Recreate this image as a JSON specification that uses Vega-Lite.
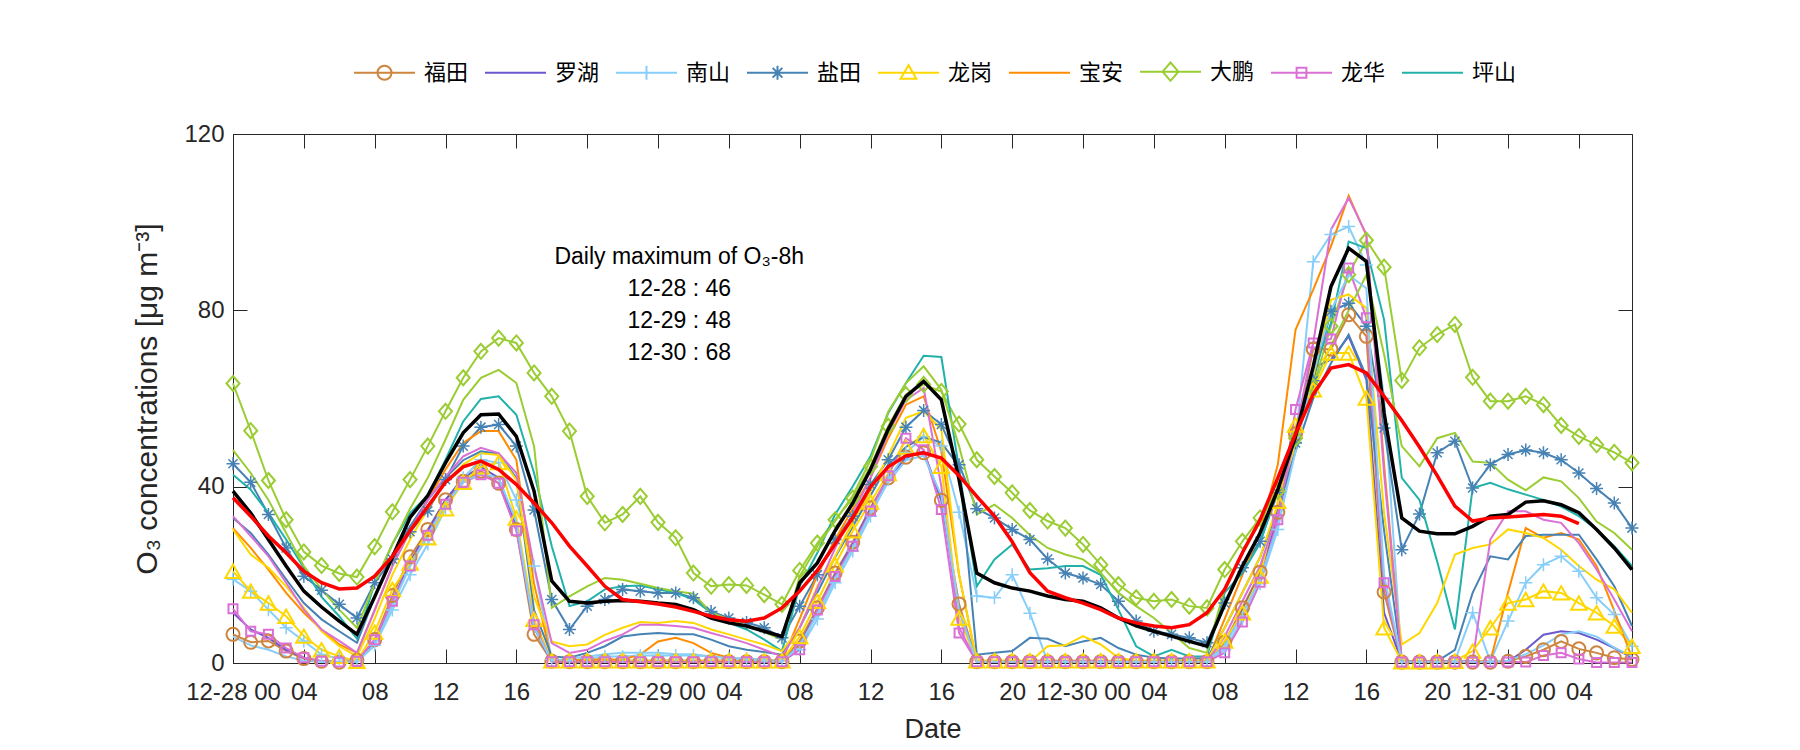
{
"$schema": "https://vega.github.io/schema/vega-lite/v6.json",
"width": 1399, "height": 529,
"autosize": {"type": "none"},
"padding": {"left": 233, "top": 134, "right": 168, "bottom": 87},
"background": "white",
"config": {
  "view": {"stroke": "#262626", "strokeWidth": 1},
  "axis": {"grid": false, "labelFont": "Liberation Sans", "labelFontSize": 24, "labelColor": "#262626", "titleFont": "Liberation Sans", "titleFontSize": 27, "titleFontWeight": "normal", "titleColor": "#262626", "tickColor": "#262626", "domainColor": "#262626", "tickSize": -14, "labelFlush": false, "labelOverlap": false}
},
"datasets": {"obs": [
{"h":0,"福田":6.5,"罗湖":11.4,"南山":19,"盐田":45.2,"龙岗":20.8,"宝安":30.6,"大鹏":63.4,"龙华":12.3,"坪山":42.7,"大鹏2":48.3,"盐田2":32.9,"龙岗2":30.3,"龙华2":33.3,"南山2":6,"均值":39,"滑动":37.5},
{"h":1,"福田":4.7,"罗湖":7.6,"南山":16.3,"盐田":41,"龙岗":16.3,"宝安":26.1,"大鹏":52.7,"龙华":7.2,"坪山":39.3,"大鹏2":43.1,"盐田2":29.5,"龙岗2":24.6,"龙华2":28.8,"南山2":4,"均值":34,"滑动":33.3},
{"h":2,"福田":5,"罗湖":5.7,"南山":12.1,"盐田":33.7,"龙岗":13.6,"宝安":21.2,"大鹏":41.4,"龙华":6.5,"坪山":34,"大鹏2":37,"盐田2":24.6,"龙岗2":21.6,"龙华2":24.2,"南山2":3,"均值":28,"滑动":28.8},
{"h":3,"福田":2.7,"罗湖":3,"南山":8,"盐田":26.1,"龙岗":10.6,"宝安":15.9,"大鹏":32.5,"龙华":3.4,"坪山":28,"大鹏2":29.5,"盐田2":19,"龙岗2":17.4,"龙华2":18.2,"南山2":1.5,"均值":22,"滑动":25},
{"h":4,"福田":1,"罗湖":1.2,"南山":5,"盐田":19.7,"龙岗":6.1,"宝安":11.4,"大鹏":25.2,"龙华":1.2,"坪山":21.6,"大鹏2":22,"盐田2":13.6,"龙岗2":12.5,"龙华2":12.1,"南山2":0.5,"均值":16.3,"滑动":20.8},
{"h":5,"福田":0.4,"罗湖":0.4,"南山":1.9,"盐田":16.5,"龙岗":3,"宝安":7.6,"大鹏":22.1,"龙华":0.4,"坪山":15,"大鹏2":16.7,"盐田2":9.9,"龙岗2":7.2,"龙华2":7.6,"南山2":0.2,"均值":12.7,"滑动":18.2},
{"h":6,"福田":0.2,"罗湖":0.2,"南山":1,"盐田":13.3,"龙岗":1.5,"宝安":4.2,"大鹏":20.3,"龙华":0.2,"坪山":10.6,"大鹏2":12.1,"盐田2":7.2,"龙岗2":3.8,"龙华2":5,"南山2":0.2,"均值":9.5,"滑动":16.8},
{"h":7,"福田":0.6,"罗湖":0.2,"南山":0.5,"盐田":10.2,"龙岗":0.4,"宝安":2.3,"大鹏":19.5,"龙华":0.4,"坪山":5.5,"大鹏2":8,"盐田2":4.6,"龙岗2":1.5,"龙华2":2.3,"南山2":0.2,"均值":6.5,"滑动":17},
{"h":8,"福田":5.3,"罗湖":5,"南山":4,"盐田":18.2,"龙岗":7,"宝安":12,"大鹏":26.4,"龙华":5.3,"坪山":18,"大鹏2":18,"盐田2":15,"龙岗2":10,"龙华2":12,"南山2":4,"均值":15,"滑动":19.7},
{"h":9,"福田":15.3,"罗湖":14,"南山":12,"盐田":23.6,"龙岗":16.7,"宝安":22,"大鹏":34.3,"龙华":14,"坪山":27,"大鹏2":27,"盐田2":24,"龙岗2":20,"龙华2":22,"南山2":13,"均值":24,"滑动":24.2},
{"h":10,"福田":24.1,"罗湖":23,"南山":20,"盐田":29.8,"龙岗":22.7,"宝安":30,"大鹏":41.6,"龙华":22,"坪山":34,"大鹏2":35,"盐田2":31,"龙岗2":28,"龙华2":30,"南山2":22,"均值":33,"滑动":30},
{"h":11,"福田":30.3,"罗湖":30,"南山":27,"盐田":34.5,"龙岗":28.4,"宝安":37,"大鹏":49.2,"龙华":29,"坪山":38,"大鹏2":42,"盐田2":37,"龙岗2":35,"龙华2":37,"南山2":29,"均值":38,"滑动":35.5},
{"h":12,"福田":37,"罗湖":37,"南山":35,"盐田":41.6,"龙岗":35,"宝安":43.9,"大鹏":57.1,"龙华":36,"坪山":46.1,"大鹏2":50.7,"盐田2":42,"龙岗2":41,"龙华2":42.3,"南山2":36,"均值":45.4,"滑动":41},
{"h":13,"福田":41.2,"罗湖":42,"南山":42,"盐田":49.2,"龙岗":41,"宝安":49.9,"大鹏":64.7,"龙华":41,"坪山":54.8,"大鹏2":59.7,"盐田2":46,"龙岗2":45,"龙华2":46.9,"南山2":41,"均值":52.2,"滑动":44.5},
{"h":14,"福田":43.5,"罗湖":44.5,"南山":46.1,"盐田":53.5,"龙岗":44.5,"宝安":52.6,"大鹏":70.7,"龙华":42.7,"坪山":59.9,"大鹏2":64.7,"盐田2":48,"龙岗2":47.6,"龙华2":48.8,"南山2":43,"均值":56.3,"滑动":45.8},
{"h":15,"福田":40.8,"罗湖":42,"南山":45.4,"盐田":54.1,"龙岗":45.5,"宝安":52.6,"大鹏":73.7,"龙华":40.8,"坪山":60.5,"大鹏2":66.5,"盐田2":47.5,"龙岗2":47.2,"龙华2":47.6,"南山2":42,"均值":56.5,"滑动":43.9},
{"h":16,"福田":30.3,"罗湖":31,"南山":37,"盐田":49.2,"龙岗":32.9,"宝安":46.1,"大鹏":72.6,"龙华":30,"坪山":56.3,"大鹏2":63.5,"盐田2":42,"龙岗2":41.6,"龙华2":43.1,"南山2":32,"均值":51.4,"滑动":40.5},
{"h":17,"福田":6.5,"罗湖":8,"南山":22,"盐田":34.7,"龙岗":9.9,"宝安":18,"大鹏":65.8,"龙华":8.7,"坪山":43.1,"大鹏2":49.2,"盐田2":12,"龙岗2":15,"龙华2":22,"南山2":8,"均值":39,"滑动":36.3},
{"h":18,"福田":0.4,"罗湖":0.3,"南山":0.8,"盐田":14.4,"龙岗":0.5,"宝安":0.5,"大鹏":60.5,"龙华":0.3,"坪山":26.5,"大鹏2":12.5,"盐田2":1.5,"龙岗2":4.9,"龙华2":4.5,"南山2":0.5,"均值":18.6,"滑动":31.8},
{"h":19,"福田":0.3,"罗湖":0.3,"南山":0.5,"盐田":7.6,"龙岗":0.5,"宝安":0.5,"大鹏":52.6,"龙华":0.3,"坪山":12.9,"大鹏2":15.1,"盐田2":1.2,"龙岗2":3.8,"龙华2":2.3,"南山2":1,"均值":14,"滑动":26.5},
{"h":20,"福田":0.3,"罗湖":0.5,"南山":1,"盐田":12.9,"龙岗":0.5,"宝安":0.8,"大鹏":37.8,"龙华":0.3,"坪山":14,"大鹏2":17.4,"盐田2":2.3,"龙岗2":4.2,"龙华2":3,"南山2":1.5,"均值":13.6,"滑动":22},
{"h":21,"福田":0.3,"罗湖":0.5,"南山":1.5,"盐田":14.4,"龙岗":0.5,"宝安":0.8,"大鹏":31.8,"龙华":0.3,"坪山":16.7,"大鹏2":19.3,"盐田2":3.8,"龙岗2":6.4,"龙华2":5,"南山2":2,"均值":14,"滑动":17.4},
{"h":22,"福田":0.3,"罗湖":0.5,"南山":1.5,"盐田":16.7,"龙岗":0.5,"宝安":0.8,"大鹏":33.7,"龙华":0.3,"坪山":17.4,"大鹏2":18.9,"盐田2":6,"龙岗2":8,"龙华2":6.5,"南山2":2.3,"均值":14.2,"滑动":14.4},
{"h":23,"福田":0.3,"罗湖":0.5,"南山":1.7,"盐田":16.3,"龙岗":0.5,"宝安":1.9,"大鹏":37.8,"龙华":0.3,"坪山":17.6,"大鹏2":18,"盐田2":6.5,"龙岗2":9.3,"龙华2":8.7,"南山2":2.3,"均值":14,"滑动":13.9},
{"h":24,"福田":0.3,"罗湖":0.5,"南山":1.7,"盐田":15.9,"龙岗":0.5,"宝安":4.9,"大鹏":31.9,"龙华":0.3,"坪山":16.7,"大鹏2":17,"盐田2":6.8,"龙岗2":9.1,"龙华2":8.7,"南山2":2.3,"均值":13.6,"滑动":13.4},
{"h":25,"福田":0.3,"罗湖":0.5,"南山":1.7,"盐田":15.9,"龙岗":0.5,"宝安":5.7,"大鹏":28.4,"龙华":0.3,"坪山":15.9,"大鹏2":16.3,"盐田2":6.5,"龙岗2":9.5,"龙华2":8.4,"南山2":2,"均值":13.3,"滑动":12.7},
{"h":26,"福田":0.3,"罗湖":0.5,"南山":1.7,"盐田":14.8,"龙岗":0.5,"宝安":4.5,"大鹏":20.4,"龙华":0.3,"坪山":14.4,"大鹏2":15.7,"盐田2":6.5,"龙岗2":9.1,"龙华2":8,"南山2":2,"均值":12.1,"滑动":11.7},
{"h":27,"福田":0.3,"罗湖":0.5,"南山":1.5,"盐田":11.7,"龙岗":0.5,"宝安":2.3,"大鹏":17.4,"龙华":0.3,"坪山":11.4,"大鹏2":11.4,"盐田2":5.3,"龙岗2":7.6,"龙华2":6.8,"南山2":1.5,"均值":10.2,"滑动":10.6},
{"h":28,"福田":0.3,"罗湖":0.5,"南山":1.2,"盐田":10.2,"龙岗":0.5,"宝安":1.2,"大鹏":17.8,"龙华":0.3,"坪山":9.1,"大鹏2":9.9,"盐田2":3.8,"龙岗2":6.5,"龙华2":5.7,"南山2":1,"均值":9.1,"滑动":9.8},
{"h":29,"福田":0.3,"罗湖":0.3,"南山":1,"盐田":9.2,"龙岗":0.5,"宝安":0.5,"大鹏":17.6,"龙华":0.3,"坪山":7.6,"大鹏2":8.4,"盐田2":3,"龙岗2":5.3,"龙华2":4.5,"南山2":0.8,"均值":8.4,"滑动":9.5},
{"h":30,"福田":0.3,"罗湖":0.3,"南山":0.8,"盐田":8,"龙岗":0.5,"宝安":0.5,"大鹏":15.5,"龙华":0.3,"坪山":5.3,"大鹏2":7,"盐田2":2.5,"龙岗2":4.2,"龙华2":3,"南山2":0.5,"均值":7.2,"滑动":10.2},
{"h":31,"福田":0.3,"罗湖":0.3,"南山":0.5,"盐田":5.7,"龙岗":0.5,"宝安":0.5,"大鹏":13.3,"龙华":0.3,"坪山":2.7,"大鹏2":5.3,"盐田2":1.9,"龙岗2":2.7,"龙华2":1.5,"南山2":0.3,"均值":6,"滑动":12.5},
{"h":32,"福田":5,"罗湖":4,"南山":3,"盐田":12.9,"龙岗":6,"宝安":10,"大鹏":21,"龙华":3,"坪山":17.4,"大鹏2":19.7,"盐田2":8,"龙岗2":8,"龙华2":8,"南山2":4,"均值":18.2,"滑动":16.3},
{"h":33,"福田":12.5,"罗湖":12,"南山":10,"盐田":20,"龙岗":14,"宝安":20,"大鹏":27.2,"龙华":12,"坪山":25,"大鹏2":26.5,"盐田2":16,"龙岗2":17.4,"龙华2":17,"南山2":11,"均值":22.7,"滑动":21},
{"h":34,"福田":20.4,"罗湖":20,"南山":18.2,"盐田":28,"龙岗":22.3,"宝安":28,"大鹏":32.5,"龙华":19.6,"坪山":33.7,"大鹏2":32.2,"盐田2":24,"龙岗2":24.2,"龙华2":26,"南山2":19,"均值":30,"滑动":27},
{"h":35,"福田":27.4,"罗湖":27,"南山":25.4,"盐田":33.3,"龙岗":30,"宝安":35,"大鹏":37.4,"龙华":26.5,"坪山":40.1,"大鹏2":38,"盐田2":31,"龙岗2":32,"龙华2":34,"南山2":26,"均值":36.3,"滑动":33},
{"h":36,"福田":35.2,"罗湖":35,"南山":33.3,"盐田":40.5,"龙岗":36.5,"宝安":42,"大鹏":44.6,"龙华":34.5,"坪山":46.9,"大鹏2":46,"盐田2":38,"龙岗2":39,"龙华2":42,"南山2":34,"均值":43.9,"滑动":40},
{"h":37,"福田":42,"罗湖":42,"南山":41.6,"盐田":46.1,"龙岗":43,"宝安":51,"大鹏":53.7,"龙华":42.5,"坪山":56.7,"大鹏2":57,"盐田2":45,"龙岗2":47,"龙华2":52.2,"南山2":41,"均值":53,"滑动":44.5},
{"h":38,"福田":46.7,"罗湖":46.5,"南山":47.7,"盐田":53.5,"龙岗":49,"宝安":58.6,"大鹏":60.9,"龙华":51,"坪山":63.5,"大鹏2":63.5,"盐田2":49,"龙岗2":55.6,"龙华2":59.7,"南山2":46,"均值":60.5,"滑动":47},
{"h":39,"福田":47.7,"罗湖":48,"南山":51.3,"盐田":57.3,"龙岗":51.6,"宝安":60.5,"大鹏":63.2,"龙华":48.4,"坪山":69.7,"大鹏2":67.3,"盐田2":51.3,"龙岗2":57.1,"龙华2":62.4,"南山2":47,"均值":63.9,"滑动":47.7},
{"h":40,"福田":36.9,"罗湖":37,"南山":49.2,"盐田":54.1,"龙岗":44.6,"宝安":48,"大鹏":61.6,"龙华":34.8,"坪山":69.4,"大鹏2":62,"盐田2":50,"龙岗2":53,"龙华2":40,"南山2":38,"均值":59.7,"滑动":46.5},
{"h":41,"福田":13.4,"罗湖":12,"南山":34.2,"盐田":45,"龙岗":10.2,"宝安":20,"大鹏":54.2,"龙华":6.8,"坪山":44,"大鹏2":49.2,"盐田2":44.6,"龙岗2":20,"龙华2":8,"南山2":12,"均值":41.6,"滑动":42.5},
{"h":42,"福田":0.3,"罗湖":0.3,"南山":15.2,"盐田":35,"龙岗":0.5,"宝安":0.3,"大鹏":46.1,"龙华":0.3,"坪山":17.4,"大鹏2":33.7,"盐田2":1.9,"龙岗2":0.5,"龙华2":0.3,"南山2":0.3,"均值":20.4,"滑动":37.8},
{"h":43,"福田":0.3,"罗湖":0.3,"南山":14.8,"盐田":32.9,"龙岗":0.5,"宝安":0.3,"大鹏":42.3,"龙华":0.3,"坪山":23.5,"大鹏2":35.9,"盐田2":2.3,"龙岗2":0.5,"龙华2":0.3,"南山2":0.3,"均值":18.2,"滑动":33.3},
{"h":44,"福田":0.3,"罗湖":0.3,"南山":20,"盐田":30.3,"龙岗":0.5,"宝安":0.3,"大鹏":38.6,"龙华":0.3,"坪山":26.9,"大鹏2":32.9,"盐田2":2.7,"龙岗2":0.5,"龙华2":0.3,"南山2":0.3,"均值":17,"滑动":27.5},
{"h":45,"福田":0.3,"罗湖":0.3,"南山":11.3,"盐田":28,"龙岗":0.5,"宝安":0.3,"大鹏":34.6,"龙华":0.3,"坪山":21.2,"大鹏2":29,"盐田2":5.7,"龙岗2":0.3,"龙华2":0.5,"南山2":0.3,"均值":16.3,"滑动":20.5},
{"h":46,"福田":0.3,"罗湖":0.3,"南山":0.3,"盐田":23.6,"龙岗":0.5,"宝安":0.3,"大鹏":32.2,"龙华":0.3,"坪山":21.5,"大鹏2":26.1,"盐田2":5.5,"龙岗2":3.8,"龙华2":0.5,"南山2":0.3,"均值":15.2,"滑动":16.3},
{"h":47,"福田":0.3,"罗湖":0.3,"南山":0.3,"盐田":20.4,"龙岗":0.5,"宝安":0.3,"大鹏":30.6,"龙华":0.3,"坪山":22,"大鹏2":24.6,"盐田2":3.8,"龙岗2":4,"龙华2":0.5,"南山2":0.3,"均值":14.4,"滑动":14.8},
{"h":48,"福田":0.3,"罗湖":0.3,"南山":0.3,"盐田":19.3,"龙岗":0.5,"宝安":0.3,"大鹏":26.9,"龙华":0.3,"坪山":22,"大鹏2":23.5,"盐田2":4.9,"龙岗2":6.1,"龙华2":0.5,"南山2":0.3,"均值":14,"滑动":13.6},
{"h":49,"福田":0.3,"罗湖":0.3,"南山":0.3,"盐田":17.8,"龙岗":0.5,"宝安":0.3,"大鹏":22.3,"龙华":0.3,"坪山":20,"大鹏2":20.4,"盐田2":5.7,"龙岗2":4.2,"龙华2":0.5,"南山2":0.3,"均值":12.5,"滑动":12.1},
{"h":50,"福田":0.3,"罗湖":0.3,"南山":0.3,"盐田":14,"龙岗":0.5,"宝安":0.3,"大鹏":17.8,"龙华":0.3,"坪山":12.1,"大鹏2":15.9,"盐田2":3.4,"龙岗2":1.2,"龙华2":0.3,"南山2":0.3,"均值":10.2,"滑动":10.2},
{"h":51,"福田":0.3,"罗湖":0.3,"南山":0.3,"盐田":9.5,"龙岗":0.5,"宝安":0.3,"大鹏":14.8,"龙华":0.3,"坪山":3.8,"大鹏2":12.9,"盐田2":1.9,"龙岗2":0.5,"龙华2":0.3,"南山2":0.3,"均值":8.4,"滑动":9.1},
{"h":52,"福田":0.3,"罗湖":0.3,"南山":0.3,"盐田":7.2,"龙岗":0.5,"宝安":0.3,"大鹏":14,"龙华":0.3,"坪山":1.5,"大鹏2":10.2,"盐田2":1.2,"龙岗2":0.5,"龙华2":0.3,"南山2":0.3,"均值":7.2,"滑动":8.4},
{"h":53,"福田":0.3,"罗湖":0.3,"南山":0.3,"盐田":6.5,"龙岗":0.5,"宝安":0.3,"大鹏":14.4,"龙华":0.3,"坪山":3,"大鹏2":6.8,"盐田2":1,"龙岗2":0.5,"龙华2":0.3,"南山2":0.3,"均值":6.1,"滑动":8},
{"h":54,"福田":0.3,"罗湖":0.3,"南山":0.3,"盐田":5.7,"龙岗":0.5,"宝安":0.3,"大鹏":12.9,"龙华":0.3,"坪山":1.5,"大鹏2":3.4,"盐田2":1,"龙岗2":0.5,"龙华2":0.3,"南山2":0.3,"均值":4.9,"滑动":8.7},
{"h":55,"福田":0.3,"罗湖":0.3,"南山":0.3,"盐田":4.6,"龙岗":0.5,"宝安":0.3,"大鹏":12.5,"龙华":0.3,"坪山":1.5,"大鹏2":2.3,"盐田2":1,"龙岗2":0.5,"龙华2":0.3,"南山2":0.3,"均值":3.8,"滑动":11.4},
{"h":56,"福田":4.7,"罗湖":4,"南山":3,"盐田":13.6,"龙岗":5,"宝安":10,"大鹏":21.2,"龙华":2.3,"坪山":16,"大鹏2":17,"盐田2":8,"龙岗2":8,"龙华2":6,"南山2":4,"均值":13.3,"滑动":16.7},
{"h":57,"福田":12.5,"罗湖":12,"南山":10,"盐田":21.6,"龙岗":11.4,"宝安":20,"大鹏":27.6,"龙华":9.3,"坪山":20.4,"大鹏2":25,"盐田2":16,"龙岗2":16,"龙华2":14,"南山2":11,"均值":22,"滑动":25},
{"h":58,"福田":20.6,"罗湖":20,"南山":18,"盐田":27.6,"龙岗":19.7,"宝安":30,"大鹏":32.9,"龙华":18.3,"坪山":27.2,"大鹏2":32,"盐田2":24,"龙岗2":24,"龙华2":22,"南山2":19,"均值":29.5,"滑动":32.5},
{"h":59,"福田":34.2,"罗湖":33,"南山":30.3,"盐田":38.6,"龙岗":36.7,"宝安":45,"大鹏":39,"龙华":32.5,"坪山":39.3,"大鹏2":40,"盐田2":35,"龙岗2":36,"龙华2":34,"南山2":31,"均值":39.3,"滑动":42},
{"h":60,"福田":52,"罗湖":51,"南山":50,"盐田":49.9,"龙岗":54,"宝安":75.6,"大鹏":51,"龙华":57.5,"坪山":52.2,"大鹏2":52,"盐田2":48,"龙岗2":50,"龙华2":52,"南山2":48,"均值":51.4,"滑动":52},
{"h":61,"福田":71.2,"罗湖":67,"南山":91,"盐田":64,"龙岗":62,"宝安":84.7,"大鹏":62.7,"龙华":72.6,"坪山":65.8,"大鹏2":63,"盐田2":60,"龙岗2":65,"龙华2":72.6,"南山2":66,"均值":67.3,"滑动":61},
{"h":62,"福田":71.2,"罗湖":68.8,"南山":97.2,"盐田":79.8,"龙岗":70.3,"宝安":94.5,"大鹏":76.4,"龙华":73.5,"坪山":77.1,"大鹏2":72,"盐田2":68,"龙岗2":82.4,"龙华2":98.3,"南山2":80,"均值":85.4,"滑动":66.9},
{"h":63,"福田":79,"罗湖":74.1,"南山":99,"盐田":81.6,"龙岗":70.3,"宝安":106,"大鹏":88.1,"龙华":89.6,"坪山":95.6,"大鹏2":80,"盐田2":74.5,"龙岗2":83.6,"龙华2":105.5,"南山2":88,"均值":94.1,"滑动":67.7},
{"h":64,"福田":74.1,"罗湖":64.3,"南山":90.3,"盐田":76.4,"龙岗":60.1,"宝安":97,"大鹏":95.9,"龙华":78.3,"坪山":94.1,"大鹏2":88,"盐田2":65,"龙岗2":80.5,"龙华2":97.2,"南山2":85,"均值":91.1,"滑动":65.8},
{"h":65,"福田":16.1,"罗湖":11.4,"南山":60,"盐田":53.3,"龙岗":8,"宝安":45,"大鹏":89.8,"龙华":18.2,"坪山":77.9,"大鹏2":70,"盐田2":30,"龙岗2":34,"龙华2":43,"南山2":20,"均值":56.7,"滑动":60.5},
{"h":66,"福田":0.2,"罗湖":0.3,"南山":0.3,"盐田":25.7,"龙岗":0.3,"宝安":0.3,"大鹏":64.1,"龙华":0.2,"坪山":42,"大鹏2":49.2,"盐田2":0.4,"龙岗2":4.2,"龙华2":0.3,"南山2":0.3,"均值":32.9,"滑动":55},
{"h":67,"福田":0.2,"罗湖":0.3,"南山":0.3,"盐田":33.8,"龙岗":0.3,"宝安":0.4,"大鹏":71.5,"龙华":0.2,"坪山":37,"大鹏2":44.6,"盐田2":0.4,"龙岗2":6.8,"龙华2":0.4,"南山2":0.3,"均值":29.9,"滑动":49},
{"h":68,"福田":0.2,"罗湖":0.3,"南山":0.3,"盐田":47.7,"龙岗":0.3,"宝安":0.4,"大鹏":74.5,"龙华":0.2,"坪山":23,"大鹏2":51,"盐田2":0.4,"龙岗2":13.6,"龙华2":0.4,"南山2":0.3,"均值":29.3,"滑动":42.5},
{"h":69,"福田":0.2,"罗湖":0.3,"南山":0.5,"盐田":50.3,"龙岗":0.4,"宝安":0.4,"大鹏":76.8,"龙华":0.2,"坪山":7.6,"大鹏2":52.2,"盐田2":3,"龙岗2":24.6,"龙华2":0.4,"南山2":0.3,"均值":29.3,"滑动":35.6},
{"h":70,"福田":0.2,"罗湖":0.3,"南山":11.4,"盐田":39.7,"龙岗":2.7,"宝安":0.4,"大鹏":64.8,"龙华":0.2,"坪山":39.7,"大鹏2":45.7,"盐田2":15.9,"龙岗2":26.1,"龙华2":0.5,"南山2":0.3,"均值":31,"滑动":32.2},
{"h":71,"福田":0.2,"罗湖":0.3,"南山":0.4,"盐田":45,"龙岗":8,"宝安":0.4,"大鹏":59.4,"龙华":0.2,"坪山":40.9,"大鹏2":45.4,"盐田2":24.2,"龙岗2":26.9,"龙华2":28,"南山2":0.3,"均值":33.3,"滑动":32.9},
{"h":72,"福田":0.4,"罗湖":0.3,"南山":9.5,"盐田":47.3,"龙岗":13.6,"宝安":16,"大鹏":59.4,"龙华":0.2,"坪山":39.4,"大鹏2":41.6,"盐田2":23.5,"龙岗2":30.3,"龙华2":34.4,"南山2":0.5,"均值":33.7,"滑动":33.1},
{"h":73,"福田":1.5,"罗湖":3,"南山":18.2,"盐田":48.3,"龙岗":14.4,"宝安":30.6,"大鹏":60.5,"龙华":0.2,"坪山":38.2,"大鹏2":39.2,"盐田2":28.8,"龙岗2":29.5,"龙华2":34.4,"南山2":2,"均值":36.5,"滑动":33.4},
{"h":74,"福田":3,"罗湖":6.4,"南山":22.3,"盐田":47.7,"龙岗":16.3,"宝安":28.4,"大鹏":58.6,"龙华":1.7,"坪山":37,"大鹏2":42.1,"盐田2":29.1,"龙岗2":28.4,"龙华2":32.5,"南山2":4,"均值":36.8,"滑动":33.7},
{"h":75,"福田":4.9,"罗湖":7.2,"南山":24.2,"盐田":46.1,"龙岗":15.9,"宝安":29.5,"大鹏":53.9,"龙华":2.3,"坪山":35.5,"大鹏2":41.2,"盐田2":29.1,"龙岗2":25.7,"龙华2":31.8,"南山2":6.5,"均值":35.9,"滑动":33.3},
{"h":76,"福田":3.2,"罗湖":6.8,"南山":20.8,"盐田":43.1,"龙岗":13.6,"宝安":28,"大鹏":51.4,"龙华":0.9,"坪山":33.3,"大鹏2":37.4,"盐田2":29.1,"龙岗2":22,"龙华2":27.2,"南山2":7.2,"均值":34.1,"滑动":31.6},
{"h":77,"福田":2.3,"罗湖":5.3,"南山":14.8,"盐田":39.6,"龙岗":11.4,"宝安":22,"大鹏":49.5,"龙华":0.1,"坪山":30.3,"大鹏2":32.1,"盐田2":23.5,"龙岗2":18.9,"龙华2":21.2,"南山2":6,"均值":30.3},
{"h":78,"福田":1.2,"罗湖":3.4,"南山":11,"盐田":36.3,"龙岗":8.4,"宝安":11.8,"大鹏":47.8,"龙华":0.1,"坪山":26.5,"大鹏2":29.5,"盐田2":17.4,"龙岗2":16.7,"龙华2":14.4,"南山2":3.5,"均值":26.1},
{"h":79,"福田":0.8,"罗湖":1.2,"南山":3.8,"盐田":30.6,"龙岗":3.8,"宝安":1.2,"大鹏":45.4,"龙华":0.1,"坪山":22,"大鹏2":25.7,"盐田2":8.4,"龙岗2":11.4,"龙华2":7.2,"南山2":1.5,"均值":21.2}
]},
"resolve": {"axis": {"x": "independent", "y": "independent"}},
"layer": [
  {
    "data": {"name": "obs"},
    "transform": [{"fold": ["福田","罗湖","南山","盐田","龙岗","宝安","大鹏","龙华","坪山","大鹏2","盐田2","龙岗2","龙华2","南山2","均值","滑动"], "as": ["site", "value"]}],
    "encoding": {
      "x": {"field": "h", "type": "quantitative", "scale": {"domain": [0, 79], "nice": false, "zero": false},
            "axis": {"orient": "bottom", "values": [0,4,8,12,16,20,24,28,32,36,40,44,48,52,56,60,64,68,72,76], "labelExpr": "datum.value % 24 == 0 ? '12-' + (28 + floor(datum.value / 24)) + ' 00' : ((datum.value % 24) < 10 ? '0' : '') + (datum.value % 24)", "title": "Date", "labelPadding": 31, "titlePadding": 12}},
      "y": {"field": "value", "type": "quantitative", "scale": {"domain": [0, 120], "nice": false},
            "axis": {"orient": "left", "values": [0, 40, 80, 120], "title": "O₃ concentrations [μg m⁻³]", "titleFontSize": 30, "labelPadding": 23, "titlePadding": 21}}
    },
    "layer": [
      {
        "transform": [{"filter": {"field": "site", "oneOf": ["大鹏2","盐田2","龙岗2","龙华2","南山2","福田","罗湖","南山","盐田","龙岗","宝安","大鹏","龙华","坪山"]}}],
        "mark": {"type": "line", "strokeWidth": 2},
        "encoding": {
          "stroke": {"field": "site", "type": "nominal", "legend": null,
                     "scale": {"domain": ["福田","罗湖","南山","盐田","龙岗","宝安","大鹏","龙华","坪山","大鹏2","盐田2","龙岗2","龙华2","南山2"],
                               "range": ["#CD853F","#6A5ACD","#87CEFA","#4682B4","#FFD700","#FF8C00","#9ACD32","#DA70D6","#20B2AA","#9ACD32","#4682B4","#FFD700","#DA70D6","#87CEFA"]}}
        }
      },
      {
        "transform": [{"filter": "datum.site === '福田'"}],
        "mark": {"type": "point", "shape": "circle", "size": 170, "filled": false, "strokeWidth": 2, "opacity": 1},
        "encoding": {"stroke": {"field": "site", "type": "nominal", "legend": null}}
      },
      {
        "transform": [{"filter": "datum.site === '南山'"}],
        "mark": {"type": "point", "shape": "M-1,0L1,0M0,-1L0,1", "size": 169, "filled": false, "strokeWidth": 1.5, "opacity": 1},
        "encoding": {"stroke": {"field": "site", "type": "nominal", "legend": null}}
      },
      {
        "transform": [{"filter": "datum.site === '盐田'"}],
        "mark": {"type": "point", "shape": "M-1,0L1,0M0,-1L0,1M-0.7,-0.7L0.7,0.7M-0.7,0.7L0.7,-0.7", "size": 169, "filled": false, "strokeWidth": 1.5, "opacity": 1},
        "encoding": {"stroke": {"field": "site", "type": "nominal", "legend": null}}
      },
      {
        "transform": [{"filter": "datum.site === '龙岗'"}],
        "mark": {"type": "point", "shape": "triangle-up", "size": 240, "filled": false, "strokeWidth": 2, "opacity": 1},
        "encoding": {"stroke": {"field": "site", "type": "nominal", "legend": null}}
      },
      {
        "transform": [{"filter": "datum.site === '大鹏'"}],
        "mark": {"type": "point", "shape": "M0,-1L0.87,0L0,1L-0.87,0Z", "size": 225, "filled": false, "strokeWidth": 2, "opacity": 1},
        "encoding": {"stroke": {"field": "site", "type": "nominal", "legend": null}}
      },
      {
        "transform": [{"filter": "datum.site === '龙华'"}],
        "mark": {"type": "point", "shape": "square", "size": 81, "filled": false, "strokeWidth": 2, "opacity": 1},
        "encoding": {"stroke": {"field": "site", "type": "nominal", "legend": null}}
      },
      {
        "transform": [{"filter": "datum.site === '均值'"}],
        "mark": {"type": "line", "color": "#000000", "strokeWidth": 3.5}
      },
      {
        "transform": [{"filter": "datum.site === '滑动'"}],
        "mark": {"type": "line", "color": "#FF0000", "strokeWidth": 3.5}
      }
    ]
  },
  {
    "data": {"values": [{"站点":"福田"},{"站点":"罗湖"},{"站点":"南山"},{"站点":"盐田"},{"站点":"龙岗"},{"站点":"宝安"},{"站点":"大鹏"},{"站点":"龙华"},{"站点":"坪山"}]},
    "mark": {"type": "point", "filled": false, "size": 3721, "strokeWidth": 2, "opacity": 1, "clip": true},
    "encoding": {
      "x": {"datum": -10, "type": "quantitative", "axis": {"orient": "top", "labels": false, "title": null, "domain": false, "values": [0,4,8,12,16,20,24,28,32,36,40,44,48,52,56,60,64,68,72,76]}},
      "y": {"datum": 60, "type": "quantitative", "axis": {"orient": "right", "labels": false, "title": null, "domain": false, "values": [0, 40, 80, 120]}},
      "color": {"field": "站点", "type": "nominal",
                "scale": {"domain": ["福田","罗湖","南山","盐田","龙岗","宝安","大鹏","龙华","坪山"],
                          "range": ["#CD853F","#6A5ACD","#87CEFA","#4682B4","#FFD700","#FF8C00","#9ACD32","#DA70D6","#20B2AA"]},
                "legend": {"orient": "none", "legendX": 120, "legendY": -94, "direction": "horizontal", "columns": 9, "title": null, "padding": 0,
                           "labelFont": "Noto Sans CJK SC", "labelFontSize": 22, "labelColor": "#000000", "symbolSize": 3721, "symbolStrokeWidth": 2, "labelOffset": 8, "columnPadding": 12}},
      "shape": {"field": "站点", "type": "nominal",
                "scale": {"domain": ["福田","罗湖","南山","盐田","龙岗","宝安","大鹏","龙华","坪山"],
                          "range": ["M-1,0L1,0M0.23,0A0.23,0.23,0,1,1,-0.23,0A0.23,0.23,0,1,1,0.23,0",
                                    "M-1,0L1,0",
                                    "M-1,0L1,0M0,-0.23L0,0.23",
                                    "M-1,0L1,0M0,-0.23L0,0.23M-0.16,-0.16L0.16,0.16M-0.16,0.16L0.16,-0.16",
                                    "M-1,0L1,0M0,-0.25L0.26,0.2L-0.26,0.2Z",
                                    "M-1,0L1,0",
                                    "M-1,0L1,0M0,-0.3L0.26,0L0,0.3L-0.26,0Z",
                                    "M-1,0L1,0M-0.16,-0.16L0.16,-0.16L0.16,0.16L-0.16,0.16Z",
                                    "M-1,0L1,0"]},
                "legend": {"orient": "none", "legendX": 120, "legendY": -94, "direction": "horizontal", "columns": 9, "title": null, "padding": 0,
                           "labelFont": "Noto Sans CJK SC", "labelFontSize": 22, "labelColor": "#000000", "symbolSize": 3721, "symbolStrokeWidth": 2, "labelOffset": 8, "columnPadding": 12}}
    }
  },
  {
    "data": {"values": [{}]},
    "mark": {"type": "text", "align": "center", "baseline": "middle", "font": "Liberation Sans", "fontSize": 23, "lineHeight": 32, "color": "#000000"},
    "encoding": {
      "x": {"datum": 25.2, "type": "quantitative", "axis": null},
      "y": {"datum": 92.2, "type": "quantitative", "axis": null},
      "text": {"value": ["Daily maximum of O₃-8h", "12-28 : 46", "12-29 : 48", "12-30 : 68"]}
    }
  }
]
}
